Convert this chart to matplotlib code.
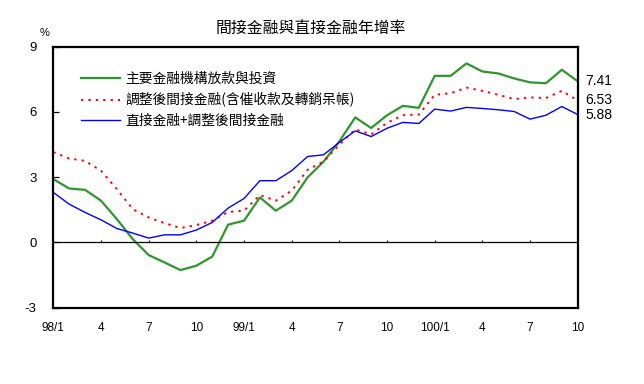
import matplotlib
matplotlib.use("Agg")
import matplotlib.pyplot as plt
import numpy as np

# monthly data, 98/1 .. 100/10
tick_labels = ['98/1', '4', '7', '10', '99/1', '4', '7', '10', '100/1', '4', '7', '10']

series_names = ['主要金融機構放款與投資',
                '調整後間接金融(含催收款及轉銷呆帳)',
                '直接金融+調整後間接金融']

loans = [2.91, 2.48, 2.42, 1.92, 1.07, 0.15, -0.58, -0.92, -1.27, -1.07, -0.65, 0.82,
         1.00, 2.07, 1.46, 1.92, 2.99, 3.71, 4.65, 5.75, 5.26, 5.85, 6.28, 6.19,
         7.66, 7.66, 8.23, 7.86, 7.77, 7.54, 7.36, 7.32, 7.94, 7.41]
indirect = [4.15, 3.86, 3.75, 3.30, 2.45, 1.53, 1.15, 0.89, 0.66, 0.80, 1.00, 1.40,
            1.46, 2.18, 1.92, 2.38, 3.34, 3.72, 4.50, 5.20, 4.97, 5.50, 5.85, 5.88,
            6.79, 6.86, 7.12, 6.97, 6.79, 6.59, 6.67, 6.64, 6.97, 6.53]
total = [2.30, 1.76, 1.38, 1.04, 0.64, 0.43, 0.20, 0.35, 0.35, 0.57, 0.92, 1.58,
         2.02, 2.84, 2.84, 3.30, 3.95, 4.03, 4.60, 5.13, 4.87, 5.25, 5.52, 5.47,
         6.13, 6.04, 6.21, 6.16, 6.10, 6.02, 5.67, 5.85, 6.25, 5.88]

cjk = ['Noto Sans CJK TC', 'DejaVu Sans']
num_font = 'Liberation Sans'

x = np.arange(len(loans))

fig = plt.figure(figsize=(6.44, 3.84), dpi=100)
ax = fig.add_axes([0.0828, 0.1987, 0.8143, 0.6797])

ax.plot(x, loans, color='#2f962f', lw=1.6, label=series_names[0])
ax.plot(x, indirect, color='#ff0000', lw=1.4, linestyle=(0, (1.2, 2.6)), label=series_names[1])
ax.plot(x, total, color='#0000ff', lw=1.0, label=series_names[2])

ax.set_xlim(0, len(loans) - 1)
ax.set_ylim(-3, 9)

# zero line with small upward ticks every quarter
ax.axhline(0, color='black', lw=0.9)
qticks = x[::3]
ax.vlines(qticks, 0, 0.12, color='black', lw=0.9)

ax.set_xticks(qticks)
ax.set_xticklabels(tick_labels, fontfamily=num_font, fontsize=8.5)
ax.tick_params(axis='x', length=0, pad=10)
ax.set_yticks([-3, 0, 3, 6, 9])
ax.set_yticklabels(['-3', '0', '3', '6', '9'], fontfamily=num_font, fontsize=9.5)
ax.tick_params(axis='y', direction='in', length=4, width=0.9, pad=12)

for s in ax.spines.values():
    s.set_linewidth(1.6)

# end-of-series values
end_vals = [loans[-1], indirect[-1], total[-1]]
for v in end_vals:
    ax.text(1.015, v, f'{v:.2f}', transform=ax.get_yaxis_transform(), fontfamily=num_font,
            fontsize=10, va='center', ha='left')

ax.legend(loc='upper left', bbox_to_anchor=(0.04, 0.93), frameon=False,
          prop={'family': cjk, 'size': 9.9}, handlelength=2.8, handletextpad=0.4,
          labelspacing=0.48, borderpad=0)

fig.text(0.061, 0.915, '%', fontfamily=num_font, fontsize=8, ha='left', va='center')
fig.text(0.482, 0.927, '間接金融與直接金融年增率', fontfamily=cjk, fontsize=11.4,
         ha='center', va='center')

fig.savefig('out.png', dpi=100)
